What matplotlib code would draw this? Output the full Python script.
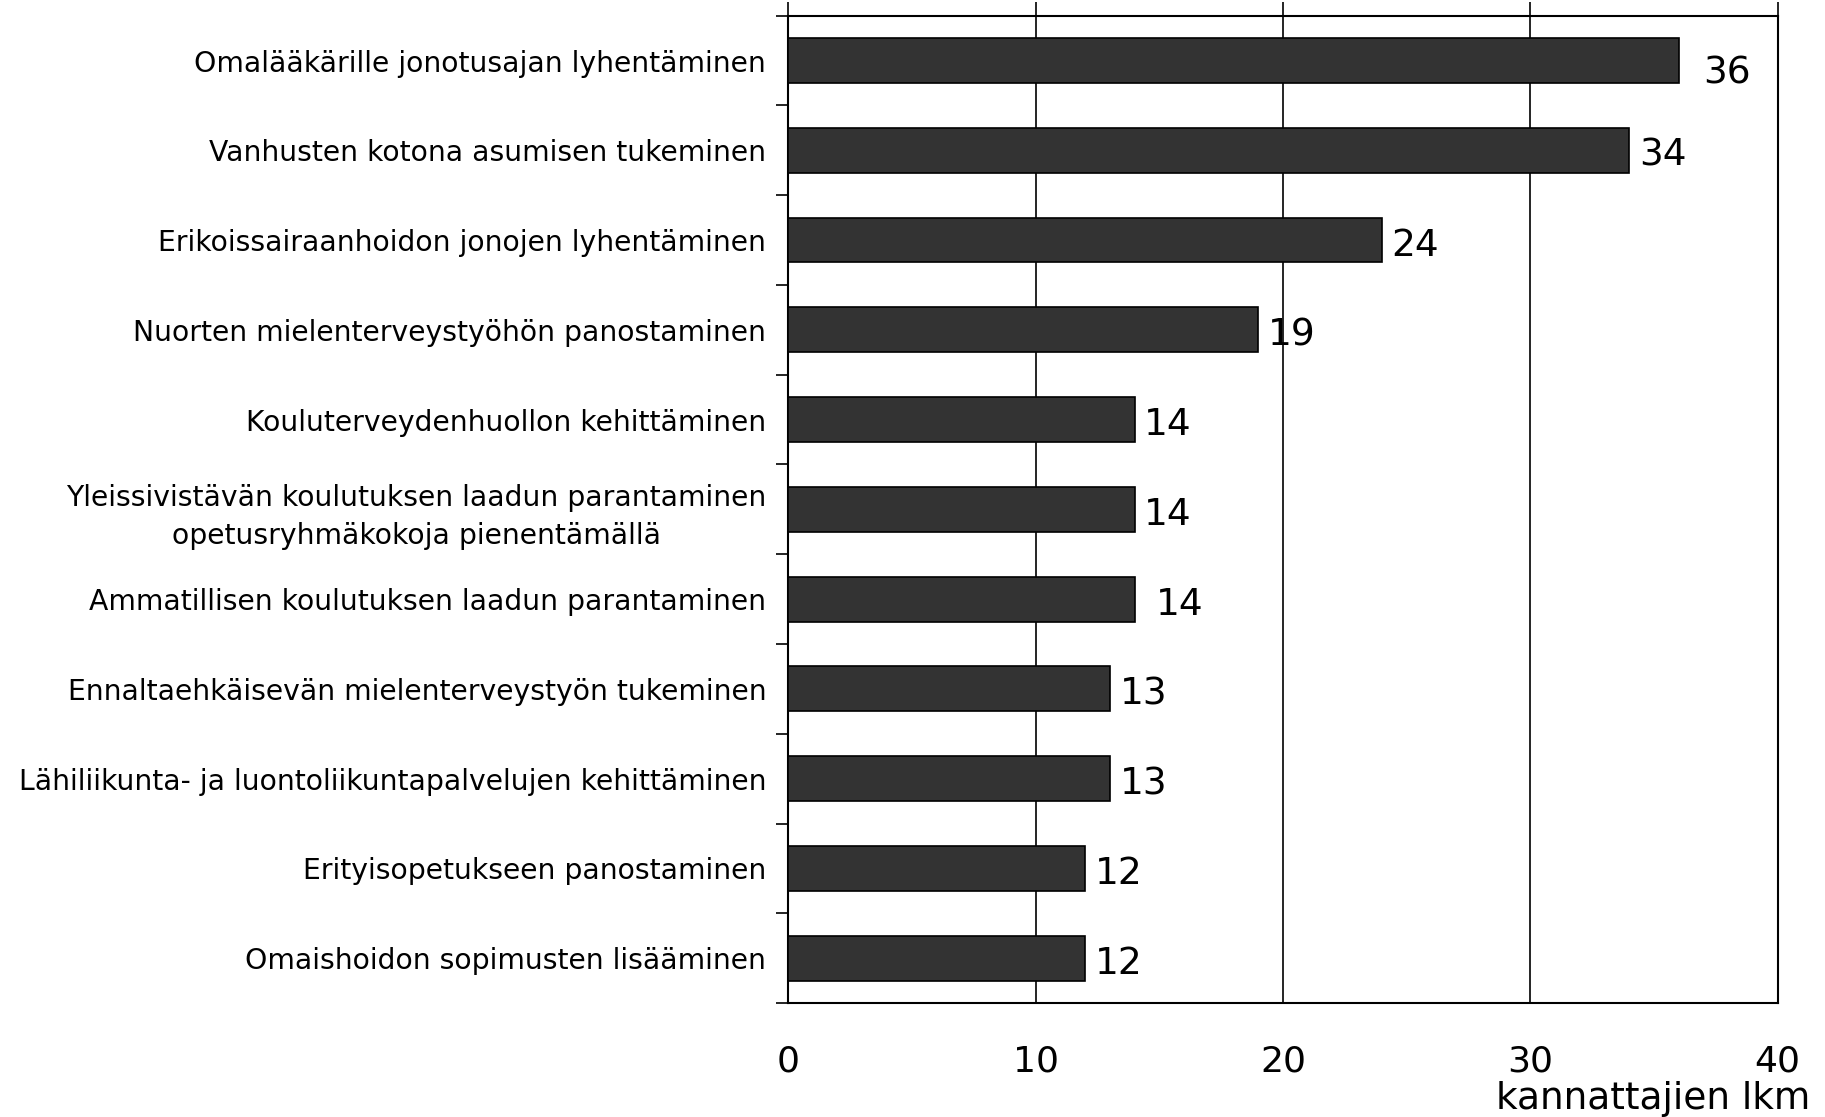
import matplotlib.pyplot as plt
import numpy as np

# ---------------- data ----------------
categories = [
    "Omalääkärille jonotusajan lyhentäminen",
    "Vanhusten kotona asumisen tukeminen",
    "Erikoissairaanhoidon jonojen lyhentäminen",
    "Nuorten mielenterveystyöhön panostaminen",
    "Kouluterveydenhuollon kehittäminen",
    "Yleissivistävän koulutuksen laadun parantaminen\nopetusryhmäkokoja pienentämällä",
    "Ammatillisen koulutuksen laadun parantaminen",
    "Ennaltaehkäisevän mielenterveystyön tukeminen",
    "Lähiliikunta- ja luontoliikuntapalvelujen kehittäminen",
    "Erityisopetukseen panostaminen",
    "Omaishoidon sopimusten lisääminen",
]
supporters = [36, 34, 24, 19, 14, 14, 14, 13, 13, 12, 12]
x_ticks = [0, 10, 20, 30, 40]
x_label = "kannattajien lkm"

# value label offsets (points) from the bar end
label_dx = [18, 7, 7, 7, 7, 7, 15, 7, 7, 7, 7]
label_dy = [-9, -4, -4, -4, -4, -4, -4, -4, -4, -4, -4]

fig = plt.figure(figsize=(18.25, 11.17), dpi=100)
ax = fig.add_axes([0.432, 0.102, 0.542, 0.884])

y = np.arange(len(categories))
ax.barh(y, supporters, height=0.5, color="#333333", edgecolor="black",
        linewidth=1.2, zorder=3)

for yi, v, dx, dy in zip(y, supporters, label_dx, label_dy):
    ax.annotate(str(v), (v, yi), xytext=(dx, dy), textcoords="offset points",
                ha="left", va="center", fontsize=27, color="black", zorder=4)

ax.set_xlim(0, 40)
ax.set_ylim(len(categories) - 0.5, -0.5)
ax.set_xticks(x_ticks)
ax.set_xticklabels([str(t) for t in x_ticks], fontsize=26)
ax.tick_params(axis="x", top=True, bottom=False, direction="out",
               length=10, width=1.2, pad=20, labelbottom=True, labeltop=False)

ax.set_yticks(y)
ax.set_yticklabels(categories, fontsize=20.3, multialignment="center",
                   linespacing=1.45)
ax.tick_params(axis="y", which="major", length=0, pad=16)
ax.set_yticks(np.arange(-0.5, len(categories), 1), minor=True)
ax.tick_params(axis="y", which="minor", length=9, width=1.2, direction="out")

ax.grid(axis="x", color="black", linewidth=1.2, zorder=0)
for s in ax.spines.values():
    s.set_linewidth(1.5)
    s.set_color("black")

fig.text(0.992, 0.007, x_label, ha="right", va="baseline", fontsize=27)

fig.savefig("out.png", dpi=100)
